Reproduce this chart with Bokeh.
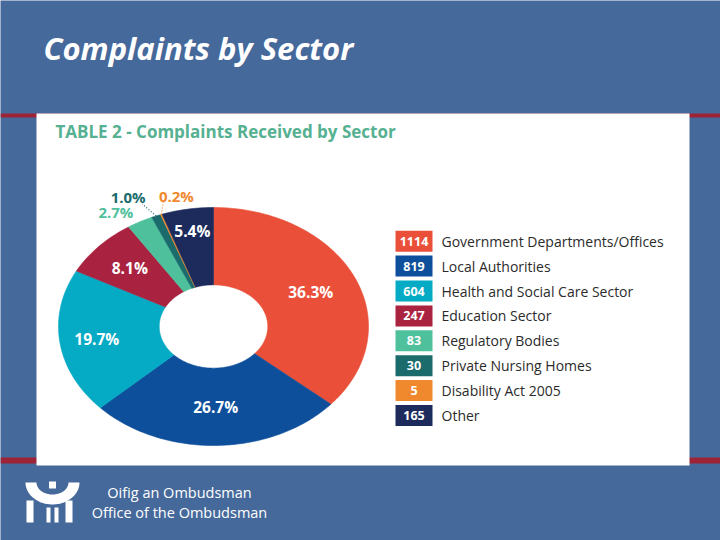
import numpy as np
from bokeh.plotting import figure
from bokeh.models import Range1d
from bokeh.core.properties import value
from bokeh.embed import file_html
from bokeh.resources import INLINE

# ---------------- data ----------------
sectors = ["Government Departments/Offices", "Local Authorities",
           "Health and Social Care Sector", "Education Sector",
           "Regulatory Bodies", "Private Nursing Homes",
           "Disability Act 2005", "Other"]
complaints = [1114, 819, 604, 247, 83, 30, 5, 165]
percent_labels = ["36.3%", "26.7%", "19.7%", "8.1%", "2.7%", "1.0%", "0.2%", "5.4%"]

# ---------------- style ----------------
colors = ["#ea5039", "#0e4f9b", "#05aac5", "#a92341", "#4fc09c",
          "#1b6a6c", "#f0892e", "#1c2a5c"]
BG = "#46699b"
RED = "#9c2436"
FONT = "Open Sans"

W, H = 720, 540
p = figure(width=W, height=H, x_range=Range1d(0, W), y_range=Range1d(H, 0),
           output_backend="svg", toolbar_location=None, min_border=0)
p.axis.visible = False
p.grid.visible = False
p.outline_line_color = None
p.background_fill_color = BG
p.border_fill_color = BG

# red rules and white panel
p.quad(left=[0, 0], right=[W, W], top=[113, 457], bottom=[117, 463],
       fill_color=RED, line_color=None)
p.quad(left=[36], right=[689], top=[113], bottom=[465],
       fill_color="white", line_color=None)

# slide title
p.text(x=[43], y=[47], text=["Complaints by Sector"], text_color="white",
       text_font=value(FONT), text_font_style="bold italic",
       text_font_size="31px", text_baseline="middle", text_align="left")

# table title
p.text(x=[55], y=[131], text=["TABLE 2 - Complaints Received by Sector"],
       text_color="#55b191", text_font=value(FONT), text_font_style="bold",
       text_font_size="17px", text_baseline="middle", text_align="left")

# ---------------- donut (elliptical, as on the slide) ----------------
cx, cy, rx, ry, hole = 213, 326, 155, 119, 0.35
vals = np.array(complaints, dtype=float)
frac = vals / vals.sum()
ends = np.cumsum(frac) * 2 * np.pi
starts = ends - frac * 2 * np.pi
xs, ys = [], []
for a0, a1 in zip(starts, ends):
    n = max(4, int((a1 - a0) / (2 * np.pi) * 360))
    t = np.linspace(a0, a1, n)
    xo = cx + rx * np.sin(t)
    yo = cy - ry * np.cos(t)
    xi = cx + hole * rx * np.sin(t[::-1])
    yi = cy - hole * ry * np.cos(t[::-1])
    xs.append(list(np.concatenate([xo, xi])))
    ys.append(list(np.concatenate([yo, yi])))
p.patches(xs, ys, fill_color=colors, line_color=colors, line_width=0.6)

mids = (starts + ends) / 2
inside = [0, 1, 2, 3, 7]
label_r = {0: 0.69, 1: 0.68, 2: 0.76, 3: 0.73, 7: 0.81}
lx = [cx + label_r[i] * rx * np.sin(mids[i]) for i in inside]
ly = [cy - label_r[i] * ry * np.cos(mids[i]) for i in inside]
p.text(x=lx, y=ly, text=[percent_labels[i] for i in inside], text_color="white",
       text_font=value(FONT), text_font_style="bold", text_font_size="15.5px",
       text_align="center", text_baseline="middle")

# small slices: labels outside with dotted leaders
outside = [4, 5, 6]
off = {4: (-24, -10), 5: (-28, -19), 6: (15, -18)}
lead = {5: (-14, -12), 6: (2, -13)}
ex = {i: cx + rx * np.sin(mids[i]) for i in outside}
ey = {i: cy - ry * np.cos(mids[i]) for i in outside}
for i in [5, 6]:
    p.segment(x0=[ex[i]], y0=[ey[i]], x1=[ex[i] + lead[i][0]], y1=[ey[i] + lead[i][1]],
              line_color=colors[i], line_dash="1 2", line_width=1.2)
p.text(x=[ex[i] + off[i][0] for i in outside], y=[ey[i] + off[i][1] for i in outside],
       text=[percent_labels[i] for i in outside], text_color=[colors[i] for i in outside],
       text_font=value(FONT), text_font_style="bold", text_font_size="15px",
       text_align="center", text_baseline="middle")

# ---------------- legend table ----------------
row0, step = 240.7, 24.9
rows = [row0 + k * step for k in range(len(sectors))]
p.rect(x=[413.5] * len(rows), y=rows, width=37, height=21,
       fill_color=colors, line_color=None)
p.text(x=[413.5] * len(rows), y=rows, text=[str(v) for v in complaints],
       text_color="white", text_font=value(FONT), text_font_style="bold",
       text_font_size="12.5px", text_align="center", text_baseline="middle")
p.text(x=[441] * len(rows), y=rows, text=sectors, text_color="#2b2b2b",
       text_font=value(FONT), text_font_size="14px",
       text_align="left", text_baseline="middle")

# ---------------- footer logo and text ----------------
t = np.linspace(0, np.pi, 40)
ux = list(np.concatenate([52 + 27 * np.cos(t), 52 + 16 * np.cos(t[::-1])]))
uy = list(np.concatenate([482 + 22 * np.sin(t), 482 + 12 * np.sin(t[::-1])]))
p.patch(ux, uy, fill_color="white", line_color=None)
p.quad(left=[48.5, 26, 65, 46, 54], right=[55.5, 33, 72, 50, 58],
       top=[481, 500, 500, 507, 507], bottom=[488, 522, 522, 522, 522],
       fill_color="white", line_color=None)
p.text(x=[179, 179], y=[492, 512], text=["Oifig an Ombudsman", "Office of the Ombudsman"],
       text_color="white", text_font=value(FONT), text_font_size="14.5px",
       text_align="center", text_baseline="middle")

open("out.html", "w").write(file_html(p, INLINE))
